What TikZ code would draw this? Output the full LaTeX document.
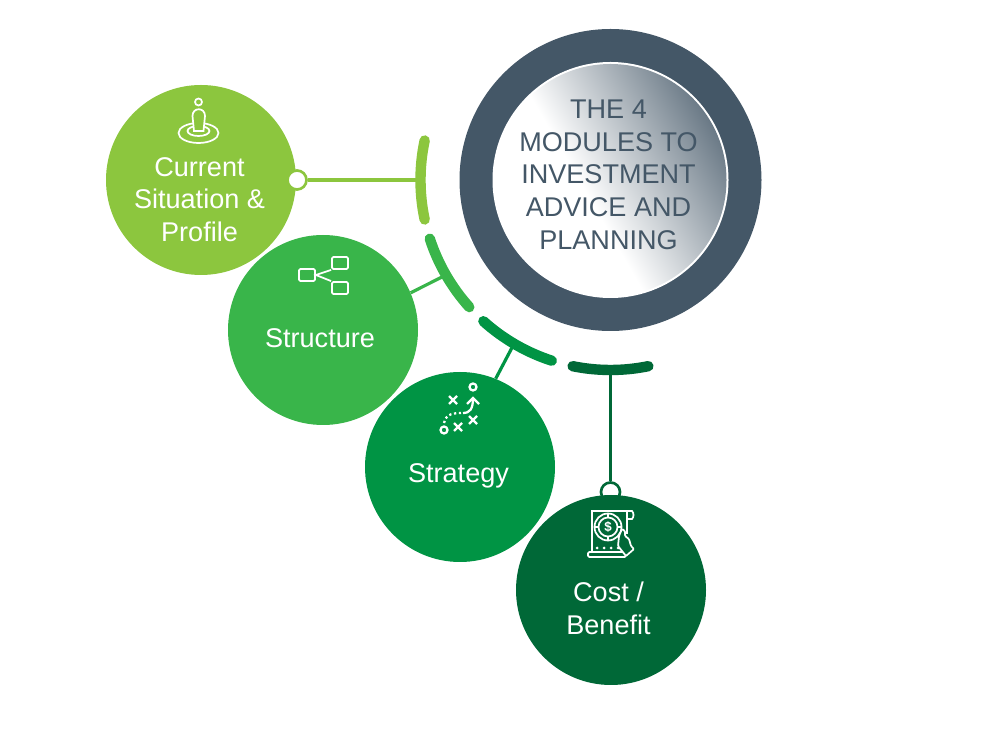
\documentclass[tikz,border=0pt]{standalone}
\usepackage{fontspec}
\setmainfont{Liberation Sans}
\definecolor{slate}{HTML}{445767}
\definecolor{limegreen}{HTML}{8CC63E}
\definecolor{midgreen}{HTML}{39B54A}
\definecolor{deepgreen}{HTML}{009444}
\definecolor{darkgreen}{HTML}{006837}
\pgfdeclareverticalshading{hubshade}{100bp}{color(0bp)=(white);color(44bp)=(white);color(76bp)=(slate!82!white);color(100bp)=(slate!82!white)}
\newcommand{\playx}[2]{\draw[iconline,line width=1.7pt] (#1-4,#2-4) -- (#1+4,#2+4) (#1-4,#2+4) -- (#1+4,#2-4);}
\tikzset{
            module/.style={circle,minimum size=190*0.75pt,inner sep=0pt,fill=#1},
            modtext/.style={text=white,font=\fontsize{20.3}{24.5}\selectfont,align=center},
            bar/.style={line width=7.8pt,line cap=round,#1},
            link/.style={line width=2.4pt,#1},
            knob/.style={circle,minimum size=19*0.75pt,inner sep=0pt,fill=white,draw=#1,line width=2pt},
            iconline/.style={draw=white,line width=1.3pt},
            iconbox/.style={draw=white,line width=1.4pt,rounded corners=1pt,minimum width=12pt,minimum height=9pt,inner sep=0pt}
        }

\begin{document}
\begin{tikzpicture}[x=0.75pt,y=0.75pt]
\useasboundingbox (0,0) rectangle (1000,732);
% centre
\node[circle,minimum size=302*0.75pt,inner sep=0pt,fill=slate] (hub) at (610.5,552) {};
\node[circle,minimum size=236*0.75pt,inner sep=0pt,fill=white] (hubedge) at (610.5,552) {};
\node[circle,minimum size=232*0.75pt,inner sep=0pt,shading=hubshade,shading angle=-60] (hubdisc) at (610.5,552) {};
\node[text=slate,font=\fontsize{20.3}{24.5}\selectfont,align=center] (hubtext) at (608.5,557.5) {THE 4\\MODULES TO\\INVESTMENT\\ADVICE AND\\PLANNING};
% ticks on the arc
\coordinate (tickA) at ([shift={(180:190)}]hub.center);
\coordinate (tickB) at ([shift={(210:190)}]hub.center);
\coordinate (tickC) at ([shift={(239.5:190)}]hub.center);
\coordinate (tickD) at ([shift={(270:190)}]hub.center);
\draw[bar=limegreen] ([shift={(168:190)}]hub.center) arc (168:192:190);
\draw[bar=midgreen] ([shift={(198:190)}]hub.center) arc (198:222:190);
\draw[bar=deepgreen] ([shift={(228:190)}]hub.center) arc (228:252:190);
\draw[bar=darkgreen] ([shift={(258.5:190)}]hub.center) arc (258.5:281.5:190);
% modules
\node[knob=darkgreen] (knobD) at (610.5,240) {};
\draw[link=darkgreen] (tickD) -- (knobD);
\node[module=limegreen] (situation) at (201,552) {};
\node[module=midgreen] (structure) at (323,402) {};
\node[module=deepgreen] (strategy) at (460,265) {};
\node[module=darkgreen] (costbenefit) at (611,142) {};
\node[knob=limegreen] (knobA) at (297,552) {};
\draw[link=limegreen] (knobA) -- (tickA);
\draw[link=midgreen] (structure.23) -- (tickB);
\draw[link=deepgreen] (strategy.68) -- (tickC);
\node[modtext] (situationtext) at (199.5,532.5) {Current\\Situation \&\\Profile};
\node[modtext] (structuretext) at (320,394) {Structure};
\node[modtext] (strategytext) at (458.5,256) {Strategy};
\node[modtext] (costtext) at (608.5,123.5) {Cost /\\Benefit};
% person icon
\draw[iconline] (198.5,599) ellipse (20 and 10);
\draw[iconline] (198.5,601) ellipse (11 and 5);
\draw[iconline,fill=limegreen] (194,601) -- (192.5,616) .. controls (192.5,625) and (205,625) .. (205,616) -- (203.5,601) -- cycle;
\draw[iconline] (198.5,630) circle (3.5);
% tree icon
\node[iconbox] (boxL) at (307,457) {};
\node[iconbox] (boxU) at (340,469) {};
\node[iconbox] (boxD) at (340,444) {};
\draw[iconline] (boxU.south west) -- (boxL.east) -- (boxD.north west);
% play icon
\draw[iconline,line width=1.7pt] (473,345) circle (3.5);
\draw[iconline,line width=1.7pt] (444,302) circle (3.5);
\playx{453}{332}
\playx{458}{305}
\playx{473}{312}
\draw[iconline,line width=1.7pt] (463,319) .. controls (470,319) and (473,323) .. (473,334);
\draw[iconline,line width=1.7pt] (467,328) -- (473,334) -- (479,328);
\draw[iconline,line width=1.7pt,dotted] (444,309) .. controls (445,316) and (450,319) .. (461,319);
% invoice icon
\draw[iconline] (592,180) -- (592,221) -- (632,221) .. controls (634,219) and (634,215) .. (632,213) -- (627,213);
\draw[iconline] (627,221) -- (627,198);
\draw[iconline,rounded corners=1pt] (588,175) rectangle (626,180);
\draw[iconline] (608,205) circle (13.5) (608,205) circle (9.5);
\draw[iconline] (608,214.5) -- (608,218.5) (608,195.5) -- (608,191.5) (598.5,205) -- (594.5,205) (617.5,205) -- (621.5,205);
\node[text=white,font=\bfseries\fontsize{10}{10}\selectfont,inner sep=0pt] (dollar) at (608,205) {\$};
\draw[iconline,fill=darkgreen,rounded corners=0.8pt] (619,196) -- (622,203) -- (625,201) -- (625,196) -- (629,193) -- (631,186) -- (634,183) -- (626,176) -- (622,181) -- (618,186) -- cycle;
\foreach \dotx in {597,604,611,618}
    \fill[white] (\dotx,184) circle (1.5);
\end{tikzpicture}
\end{document}
